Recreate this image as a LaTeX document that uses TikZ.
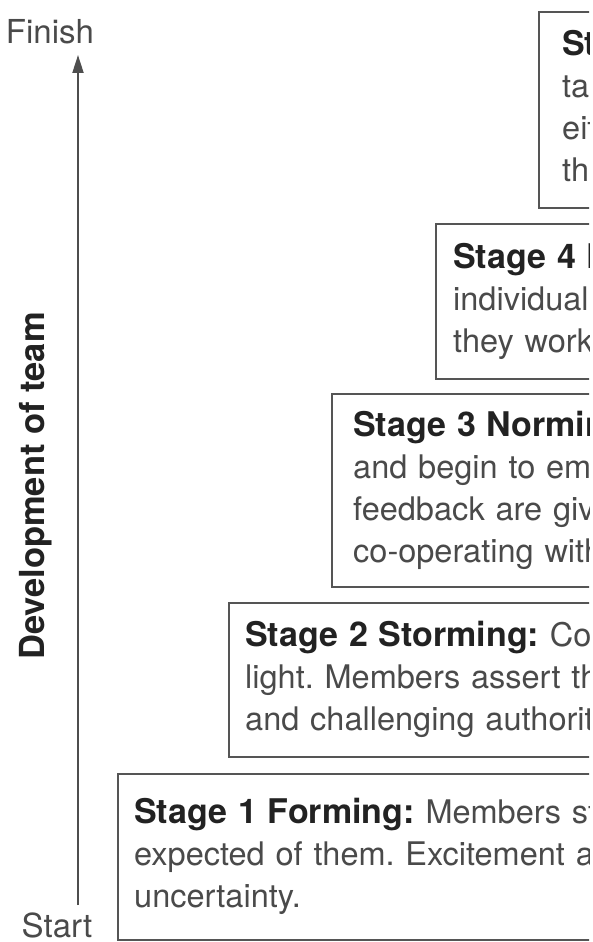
\documentclass[tikz,border=0pt]{standalone}
\usepackage{fontspec}
\setmainfont{TeX Gyre Heros}
\usetikzlibrary{arrows.meta}
\definecolor{boxline}{HTML}{555555}
\definecolor{bodytext}{HTML}{4A4A4A}
\definecolor{headtext}{HTML}{222222}
\newcommand{\stagehead}[1]{{\fontsize{34}{42}\selectfont\bfseries\color{headtext}#1}}
\frenchspacing

\begin{document}
\begin{tikzpicture}[x=1pt, y=-1pt, -{Triangle[length=18pt,width=11pt]},
	stagebox/.style={draw=boxline, line width=2.4pt, anchor=north west, text width=560pt, align=left,
		inner xsep=16pt, inner ysep=0pt, text=bodytext, font=\fontsize{32.5}{42}\selectfont,
		execute at begin node=\strut, execute at end node=\strut},
	axislabel/.style={inner sep=0pt, text=bodytext, font=\fontsize{33}{42}\selectfont}]
	\useasboundingbox (0,0) rectangle (593,942);
	\clip (0,0) rectangle (589,942);

	\node[stagebox, minimum height=196pt, inner xsep=23pt] (adjourning) at (538,11) {\stagehead{St}\\ta\\eit\\th};
	\node[stagebox, minimum height=155pt, inner xsep=17pt] (performing) at (435,223) {\stagehead{Stage 4 P}\\individually\\they work};
	\node[stagebox, minimum height=193pt, inner xsep=21pt] (norming) at (331,393) {\stagehead{Stage 3 Normin}\\and begin to eme\\feedback are giv\\co-operating with};
	\node[stagebox, minimum height=154pt] (storming) at (228,602) {\stagehead{Stage 2 Storming:} Con\\light. Members assert th\\and challenging authorit};
	\node[stagebox, minimum height=166pt] (forming) at (117,773) {\stagehead{Stage 1 Forming:} Members st\\expected of them. Excitement a\\uncertainty.};

	\node[axislabel] (finish) at (50,32) {Finish};
	\node[axislabel] (start) at (57,925) {Start};
	\node[axislabel, rotate=90, text=headtext, font=\fontsize{34.5}{42}\selectfont\bfseries] (devlabel) at (36,486) {Development of team};

	\coordinate (axisbase) at (78,905);
	\coordinate (axistop) at (78,55);
	\draw[line width=2pt, draw=headtext!80] (axisbase) -- (axistop);
\end{tikzpicture}
\end{document}
